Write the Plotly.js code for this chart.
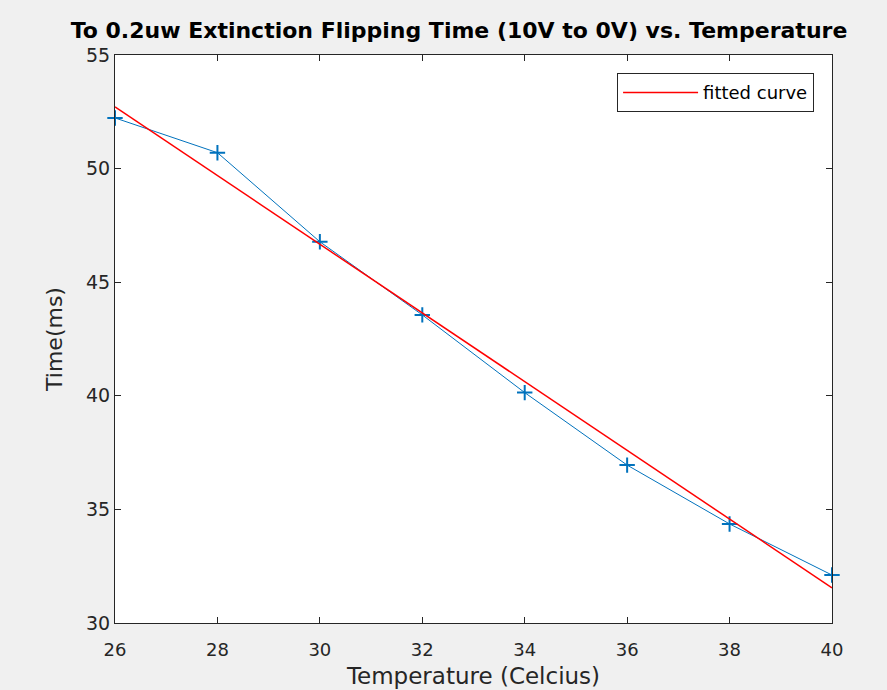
<!DOCTYPE html>
<html>
<head>
<meta charset="utf-8">
<script src="https://cdn.plot.ly/plotly-3.0.1.min.js"></script>
<style>html,body{margin:0;padding:0;background:#f0f0f0;}#chart{width:887px;height:690px;}</style>
</head>
<body>
<div id="chart"></div>
<script>
// Measured data
const temperature = [26, 28, 30, 32, 34, 36, 38, 40];
const timeMs = [52.23, 50.70, 46.78, 43.56, 40.14, 36.95, 34.36, 32.11];
// Fitted line endpoints
const fitTemperature = [26, 40];
const fitTime = [52.72, 31.55];
// Tick labels
const xTicks = [26, 28, 30, 32, 34, 36, 38, 40];
const yTicks = [30, 35, 40, 45, 50, 55];

const axisColor = '#262626';
const fontFam = 'DejaVu Sans, Liberation Sans, sans-serif';

const traces = [
  {
    x: temperature, y: timeMs, type: 'scatter', mode: 'lines+markers',
    line: {color: '#0072BD', width: 1},
    marker: {symbol: 'cross-thin', size: 11, line: {color: '#0072BD', width: 2}},
    cliponaxis: false,
    showlegend: false, name: 'data'
  },
  {
    x: fitTemperature, y: fitTime, type: 'scatter', mode: 'lines',
    line: {color: '#FF0000', width: 1.5},
    name: 'fitted curve'
  }
];

const layout = {
  width: 887, height: 690,
  paper_bgcolor: '#f0f0f0', plot_bgcolor: '#ffffff',
  margin: {l: 115, r: 55, t: 55, b: 67},
  title: {text: '<b>To 0.2uw Extinction Flipping Time (10V to 0V) vs. Temperature</b>',
          font: {family: fontFam, size: 22, color: '#000000'},
          x: 0.5175, xanchor: 'center', y: 0.956, yanchor: 'middle'},
  xaxis: {
    range: [26, 40], tickvals: xTicks, ticktext: xTicks.map(String),
    ticks: 'inside', ticklen: 6, tickwidth: 1, tickcolor: axisColor,
    showline: true, linecolor: axisColor, linewidth: 1, mirror: 'ticks',
    showgrid: false, zeroline: false, ticklabelstandoff: 10,
    tickfont: {family: fontFam, size: 18, color: axisColor},
    title: {text: 'Temperature (Celcius)', font: {family: fontFam, size: 23, color: axisColor}, standoff: 9}
  },
  yaxis: {
    range: [30, 55], tickvals: yTicks, ticktext: yTicks.map(String),
    ticks: 'inside', ticklen: 6, tickwidth: 1, tickcolor: axisColor,
    showline: true, linecolor: axisColor, linewidth: 1, mirror: 'ticks',
    showgrid: false, zeroline: false,
    tickfont: {family: fontFam, size: 19, color: axisColor},
    title: {text: 'Time(ms)', font: {family: fontFam, size: 22, color: axisColor}, standoff: 17}
  },
  legend: {
    x: 0.975, xanchor: 'right', y: 0.968, yanchor: 'top',
    bgcolor: '#ffffff', bordercolor: axisColor, borderwidth: 1,
    itemwidth: 75,
    font: {family: fontFam, size: 18, color: '#000000'}
  },
  showlegend: true
};

Plotly.newPlot('chart', traces, layout, {displayModeBar: false, staticPlot: true});
</script>
</body>
</html>
